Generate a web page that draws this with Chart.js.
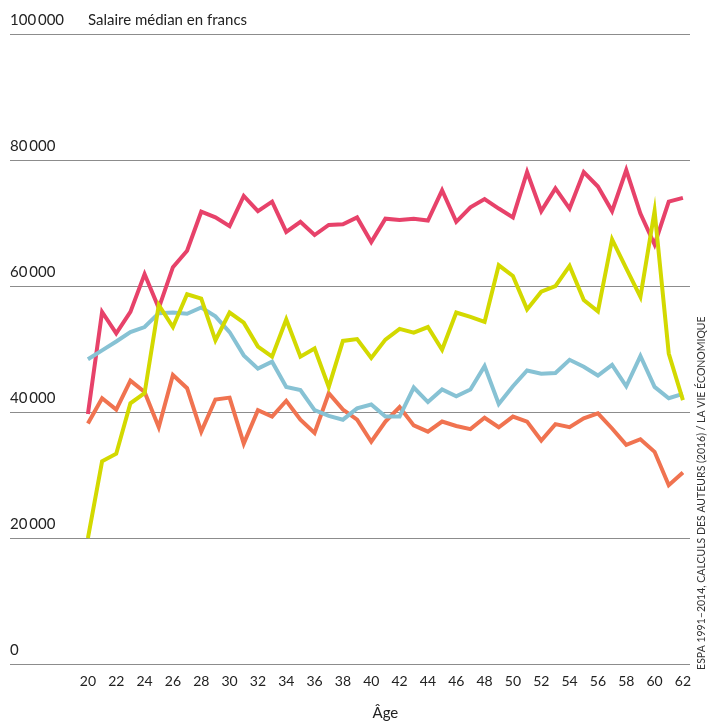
<!DOCTYPE html>
<html lang="fr">
<head>
<meta charset="utf-8">
<title>Salaire médian en francs</title>
<script src="https://cdn.jsdelivr.net/npm/chart.js@4.4.1/dist/chart.umd.min.js"></script>
<style>
    html, body { margin: 0; padding: 0; background: #fff; }
    #wrap { position: relative; width: 720px; height: 724px; }
</style>
</head>
<body>
<div id="wrap"><canvas id="salaryChart"></canvas></div>
<script>
// --- DATA ---
const ages = [20, 21, 22, 23, 24, 25, 26, 27, 28, 29, 30, 31, 32, 33, 34, 35, 36, 37, 38, 39, 40,
              41, 42, 43, 44, 45, 46, 47, 48, 49, 50, 51, 52, 53, 54, 55, 56, 57, 58, 59, 60, 61, 62];
const ageTicks = [20, 22, 24, 26, 28, 30, 32, 34, 36, 38, 40, 42, 44, 46, 48, 50, 52, 54, 56, 58, 60, 62];
const yTicks = [0, 20000, 40000, 60000, 80000, 100000];

const redSeries = [39700, 55900, 52500, 55900, 61900, 56500, 63000, 65600, 71800, 70900, 69500,
                   74300, 71900, 73400, 68600, 70200, 68100, 69700, 69800, 70900, 67000,
                   70700, 70500, 70700, 70400, 75200, 70200, 72500, 73800, 72300, 70900,
                   78100, 71900, 75500, 72300, 78100, 75800, 71900, 78400, 71500, 66600, 73400, 74000];
const yellowSeries = [20000, 32200, 33400, 41400, 43000, 57000, 53500, 58700, 58000, 51400, 55800,
                      54200, 50400, 48800, 54700, 48800, 50100, 44000, 51300, 51600, 48600,
                      51500, 53200, 52600, 53500, 49900, 55800, 55100, 54300, 63300, 61600,
                      56300, 59100, 60000, 63200, 57800, 56000, 67400, 62800, 58300, 71900, 49300, 41900];
const blueSeries = [48400, 49800, 51200, 52700, 53500, 55700, 55800, 55600, 56600, 55200, 52700,
                    49000, 46900, 48000, 44000, 43500, 40300, 39400, 38800, 40600, 41200,
                    39300, 39300, 43900, 41600, 43600, 42500, 43600, 47300, 41300, 44100,
                    46600, 46100, 46200, 48300, 47200, 45800, 47500, 44100, 48900, 44000, 42200, 42900];
const orangeSeries = [38200, 42200, 40400, 45000, 43200, 37600, 45900, 43800, 36900, 42000, 42300,
                      35000, 40300, 39300, 41800, 38800, 36700, 43000, 40400, 38800, 35300,
                      38500, 40800, 37900, 36900, 38500, 37800, 37300, 39100, 37600, 39300,
                      38500, 35500, 38100, 37600, 39000, 39800, 37400, 34800, 35700, 33700, 28400, 30400];

const FONT = 'Lato, "Open Sans", sans-serif';

function toPoints(values) {
    return values.map((v, i) => ({ x: ages[i], y: v }));
}

function formatThousands(v) {
    return v === 0 ? '0' : String(v).replace(/\B(?=(\d{3})+(?!\d))/g, '\u2009');
}

// --- EXTRA TEXT: unit title, axis title, source ---
const annotations = {
    id: 'annotations',
    afterDraw(chart) {
        const ctx = chart.ctx;
        const x = chart.scales.x;
        const y = chart.scales.y;
        ctx.save();
        ctx.fillStyle = '#222';
        ctx.font = '15px ' + FONT;
        ctx.textBaseline = 'middle';
        ctx.textAlign = 'left';
        ctx.fillText('Salaire médian en francs', x.getPixelForValue(20), y.getPixelForValue(100000) - 14);

        ctx.textAlign = 'center';
        ctx.fillText('Âge', (x.getPixelForValue(20) + x.getPixelForValue(62)) / 2, 713);

        ctx.fillStyle = '#333';
        ctx.font = '10.5px ' + FONT;
        ctx.translate(702, (y.getPixelForValue(40000) + y.getPixelForValue(0)) / 2 - 45);
        ctx.rotate(-Math.PI / 2);
        ctx.fillText('ESPA 1991–2014, CALCULS DES AUTEURS (2016) / LA VIE ÉCONOMIQUE', 0, 0);
        ctx.restore();
    }
};

document.addEventListener('DOMContentLoaded', () => {
    const canvas = document.getElementById('salaryChart');
    new Chart(canvas, {
        type: 'line',
        data: {
            datasets: [
                { data: toPoints(yellowSeries), borderColor: '#d3d900', order: 1 },
                { data: toPoints(blueSeries), borderColor: '#87c2d4', order: 2 },
                { data: toPoints(redSeries), borderColor: '#e7426a', order: 3 },
                { data: toPoints(orangeSeries), borderColor: '#f07350', order: 4 }
            ]
        },
        options: {
            responsive: true,
            maintainAspectRatio: false,
            animation: false,
            layout: { padding: { left: 10, right: 30, top: 34, bottom: 25 } },
            elements: {
                line: { borderWidth: 4, tension: 0, fill: false },
                point: { radius: 0, hoverRadius: 0 }
            },
            scales: {
                x: {
                    type: 'linear',
                    min: 14.5,
                    max: 62.5,
                    afterBuildTicks: axis => { axis.ticks = ageTicks.map(v => ({ value: v })); },
                    grid: { display: false, drawTicks: false },
                    border: { display: false },
                    ticks: { color: '#222', font: { family: FONT, size: 14 }, padding: 9, autoSkip: false, maxRotation: 0 }
                },
                y: {
                    min: 0,
                    max: 100000,
                    afterBuildTicks: axis => { axis.ticks = yTicks.map(v => ({ value: v })); },
                    grid: { color: '#8c8c8c', lineWidth: 1, drawTicks: false },
                    border: { display: false },
                    ticks: {
                        mirror: true,
                        padding: 0,
                        labelOffset: -14,
                        color: '#222',
                        font: { family: FONT, size: 15 },
                        callback: v => formatThousands(v)
                    }
                }
            },
            plugins: {
                legend: { display: false },
                tooltip: { enabled: false },
                title: { display: false }
            }
        },
        plugins: [annotations]
    });
});
</script>
</body>
</html>
